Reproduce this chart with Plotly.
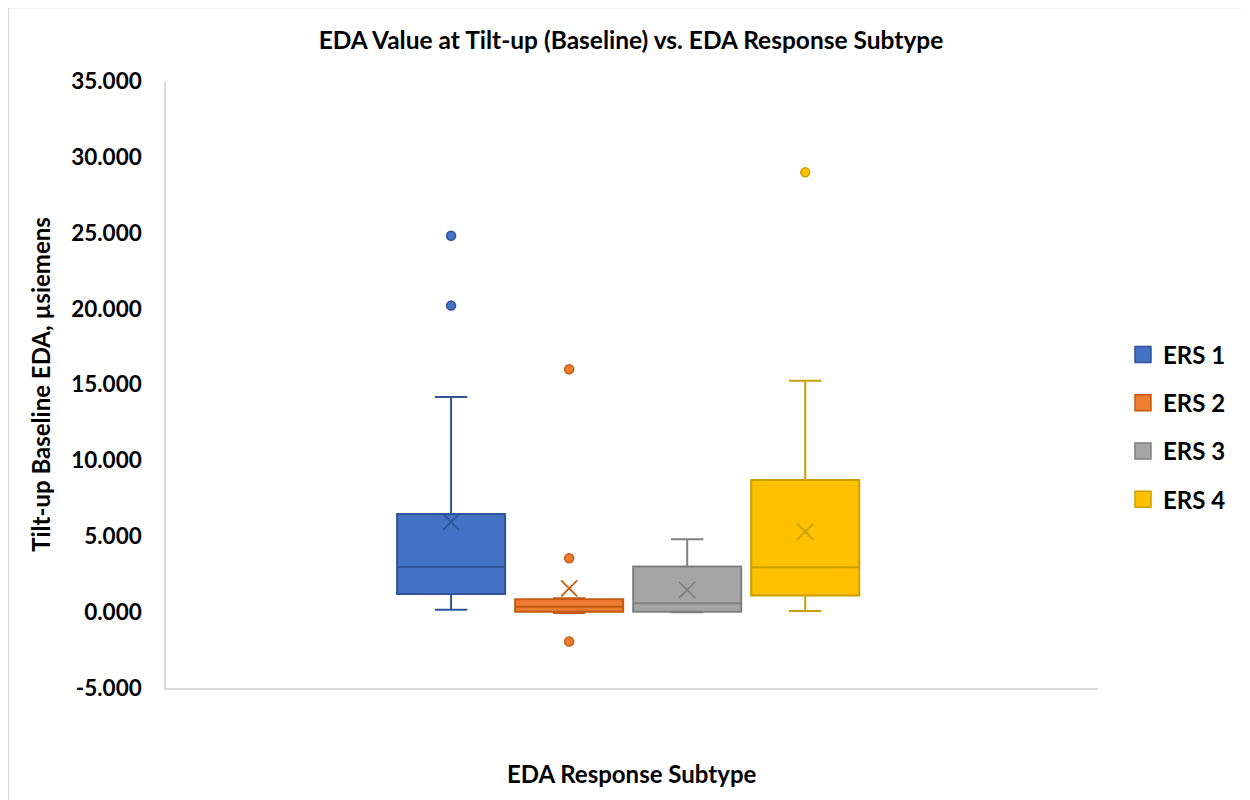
import plotly.graph_objects as go

# ---- data ----
groups = ["ERS 1", "ERS 2", "ERS 3", "ERS 4"]
positions = [1, 2, 3, 4]
q1_vals = [1.20, 0.02, 0.03, 1.09]
median_vals = [2.98, 0.36, 0.58, 2.96]
q3_vals = [6.47, 0.85, 3.00, 8.71]
lower_whisker = [0.15, -0.05, 0.00, 0.08]
upper_whisker = [14.18, 0.92, 4.80, 15.25]
mean_vals = [5.94, 1.57, 1.46, 5.30]
outliers = [[24.8, 20.2], [16.0, 3.55, -1.94], [], [28.98]]

fill_colors = ["#4472C4", "#ED7D31", "#A5A5A5", "#FFC000"]
line_colors = ["#2F5597", "#C55A11", "#7F7F7F", "#C9A000"]

y_ticks = [-5, 0, 5, 10, 15, 20, 25, 30, 35]
y_ticktext = [f"{v:.3f}" for v in y_ticks]

FONT = "Lato"
OFF = 8  # page body margin offset

fig = go.Figure()

for i, g in enumerate(groups):
    fig.add_trace(go.Box(
        name=g,
        x=[positions[i]],
        q1=[q1_vals[i]], median=[median_vals[i]], q3=[q3_vals[i]],
        lowerfence=[lower_whisker[i]], upperfence=[upper_whisker[i]],
        width=0.915,
        whiskerwidth=0.3,
        fillcolor=fill_colors[i],
        line=dict(color=line_colors[i], width=2),
        boxpoints=False,
        hoverinfo="skip",
        legendgroup=g,
        showlegend=False,
    ))
    # mean marker
    fig.add_trace(go.Scatter(
        x=[positions[i]], y=[mean_vals[i]], mode="markers",
        marker=dict(symbol="x-thin-open", size=16, color=line_colors[i],
                    line=dict(color=line_colors[i], width=1.8)),
        showlegend=False, legendgroup=g, hoverinfo="skip",
    ))
    # outliers
    if outliers[i]:
        fig.add_trace(go.Scatter(
            x=[positions[i]] * len(outliers[i]), y=outliers[i], mode="markers",
            marker=dict(symbol="circle", size=9, color=fill_colors[i],
                        line=dict(color=line_colors[i], width=1.5)),
            showlegend=False, legendgroup=g, hoverinfo="skip",
        ))
    # legend entry (square swatch)
    fig.add_trace(go.Scatter(
        x=[None], y=[None], mode="markers", name=g,
        marker=dict(symbol="square", size=16, color=fill_colors[i],
                    line=dict(color=line_colors[i], width=1.5)),
        showlegend=True, legendgroup=g, hoverinfo="skip",
    ))

W, H = 1242, 792
L, R, T, B = 166 - OFF, 1250 - 1098, 81 - OFF, 800 - 688
pw, ph = W - L - R, H - T - B


def px_x(px):
    return (px - OFF - L) / pw


def px_y(py):
    return (H - B - (py - OFF)) / ph


bold = dict(family=FONT, color="#000000", weight="bold")

fig.update_layout(
    width=W, height=H,
    margin=dict(l=L, r=R, t=T, b=B),
    paper_bgcolor="white", plot_bgcolor="white",
    font=dict(family=FONT, color="#000000"),
    title=dict(text="EDA Value at Tilt-up (Baseline) vs. EDA Response Subtype",
               x=px_x(631), xref="paper", xanchor="center",
               y=1 - (40 - OFF) / H, yanchor="middle",
               font=dict(size=24.5, **bold)),
    showlegend=True,
    legend=dict(x=px_x(1123), xanchor="left", y=px_y(427), yanchor="middle",
                font=dict(size=24, **bold),
                tracegroupgap=14, bgcolor="rgba(0,0,0,0)"),
    xaxis=dict(range=[-1.415, 6.48], showticklabels=False, ticks="",
               showgrid=False, zeroline=False, showline=True,
               linecolor="#D9D9D9", linewidth=1.5, fixedrange=True),
    yaxis=dict(range=[-5, 35], tickvals=y_ticks, ticktext=y_ticktext,
               showgrid=False, zeroline=False, showline=True,
               linecolor="#D9D9D9", linewidth=1.5, ticks="",
               ticklabelstandoff=18,
               tickfont=dict(size=22.5, **bold),
               title=dict(text="Tilt-up Baseline EDA, µsiemens",
                          font=dict(size=24, **bold),
                          standoff=14)),
    annotations=[dict(text="EDA Response Subtype", xref="paper", yref="paper",
                      x=px_x(632), y=px_y(773),
                      xanchor="center", yanchor="middle", showarrow=False,
                      font=dict(size=24, **bold))],
    shapes=[dict(type="rect", xref="paper", yref="paper",
                 x0=px_x(8.5), x1=px_x(1262),
                 y0=px_y(812), y1=px_y(7.5),
                 line=dict(color="#D9D9D9", width=1.5), layer="below")],
)

fig.write_html("out.html")
